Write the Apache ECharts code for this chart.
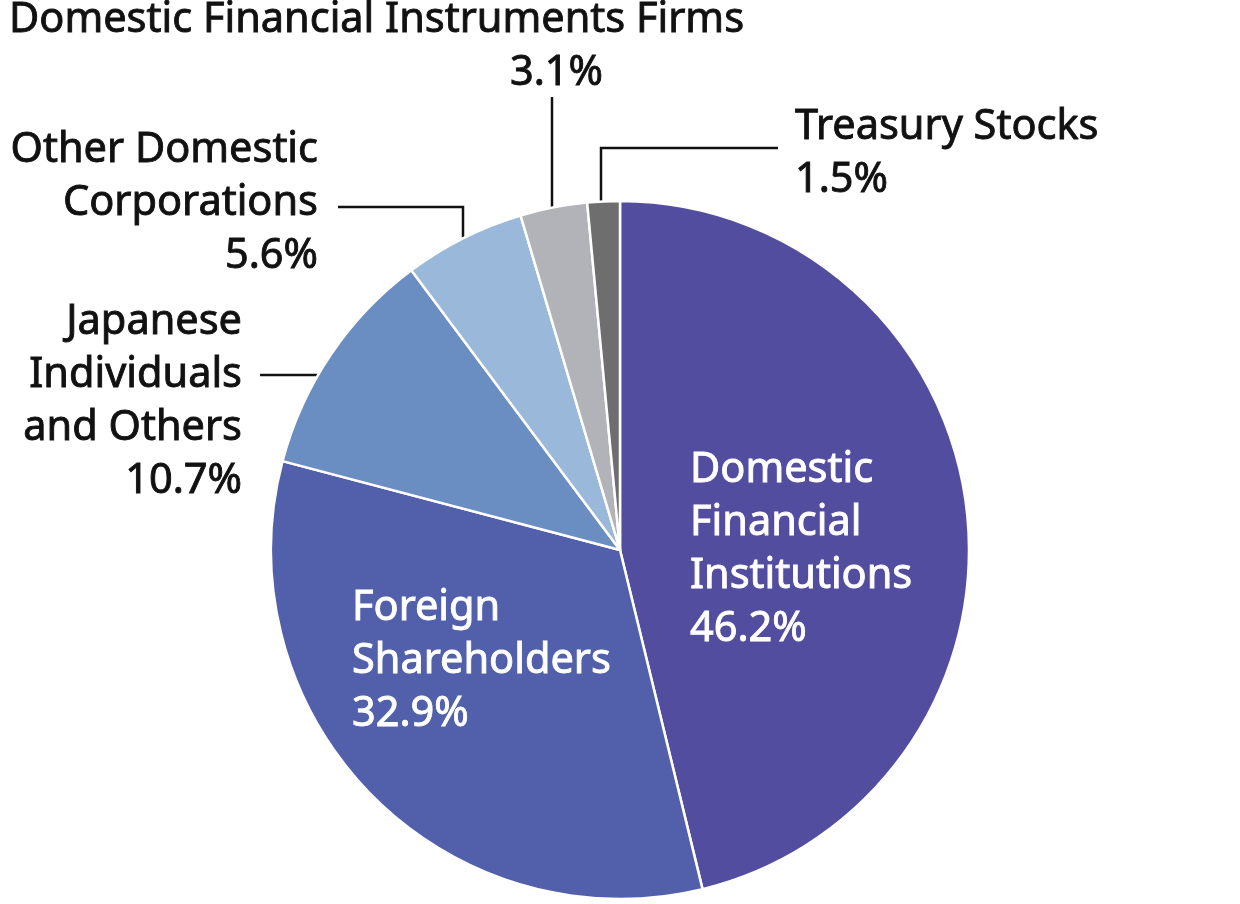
<!DOCTYPE html>
<html>
<head>
<meta charset="utf-8">
<script src="https://cdn.jsdelivr.net/npm/echarts@6/dist/echarts.min.js"></script>
<style>
html,body{margin:0;padding:0;background:#fff;}
#chart{width:1240px;height:904px;}
</style>
</head>
<body>
<div id="chart"></div>
<script>
// Data
const categories = ['Domestic Financial Institutions', 'Foreign Shareholders', 'Japanese Individuals and Others', 'Other Domestic Corporations', 'Domestic Financial Instruments Firms', 'Treasury Stocks'];
const displayNames = ['Domestic\nFinancial\nInstitutions', 'Foreign\nShareholders', 'Japanese\nIndividuals\nand Others', 'Other Domestic\nCorporations', 'Domestic Financial Instruments Firms', 'Treasury Stocks'];
const values = [46.2, 32.9, 10.7, 5.6, 3.1, 1.5];
const colors = ['#534DA0', '#525FAB', '#6A8DC2', '#9AB8D9', '#B2B3B8', '#6E6E6E'];

// Label placement (layout only)
const labelPlacement = [
  {x: 690, y: 444, align: 'left', inside: true},
  {x: 352, y: 582, align: 'left', inside: true},
  {x: 242, y: 296, align: 'right', line: [[333, 375], [296, 375], [260, 375]]},
  {x: 318, y: 124, align: 'right', line: [[463, 273], [463, 207], [338, 207]]},
  {x: 9, y: -6, align: 'left', line: [[552, 225], [552, 160], [552, 97]], pctPad: 501},
  {x: 795, y: 101, align: 'left', line: [[601, 215], [601, 148], [778, 148]]}
];

const FONT = '"Noto Sans", sans-serif';
const FS = 41.5;
const LH = 53;

const data = categories.map((c, i) => {
  const p = labelPlacement[i];
  const col = p.inside ? '#ffffff' : '#111111';
  const base = {fontSize: FS, lineHeight: LH, fontFamily: FONT, color: col, textBorderColor: col, textBorderWidth: 0.9};
  return {
    name: c,
    value: values[i],
    itemStyle: {color: colors[i]},
    label: Object.assign({}, base, {
      formatter: p.pctPad ? '{n|' + displayNames[i] + '}\n{p|' + values[i].toFixed(1) + '%}'
                          : displayNames[i] + '\n' + values[i].toFixed(1) + '%',
      rich: p.pctPad ? {
        n: Object.assign({}, base),
        p: Object.assign({}, base, {padding: [0, 0, 0, p.pctPad]})
      } : {}
    }),
    labelLine: {show: !p.inside}
  };
});

const chart = echarts.init(document.getElementById('chart'), null, {renderer: 'canvas'});
chart.setOption({
  backgroundColor: '#ffffff',
  animation: false,
  series: [{
    type: 'pie',
    center: [620, 550],
    radius: 349,
    startAngle: 90,
    clockwise: true,
    avoidLabelOverlap: false,
    itemStyle: {borderColor: '#ffffff', borderWidth: 2.5},
    label: {
      show: true,
      position: 'outside'
    },
    labelLine: {
      show: true,
      lineStyle: {color: '#111111', width: 2.5}
    },
    labelLayout: function (params) {
      const p = labelPlacement[params.dataIndex];
      const out = {x: p.x, y: p.y, align: p.align, verticalAlign: 'top'};
      if (p.line) out.labelLinePoints = p.line;
      return out;
    },
    data: data
  }]
});
</script>
</body>
</html>
